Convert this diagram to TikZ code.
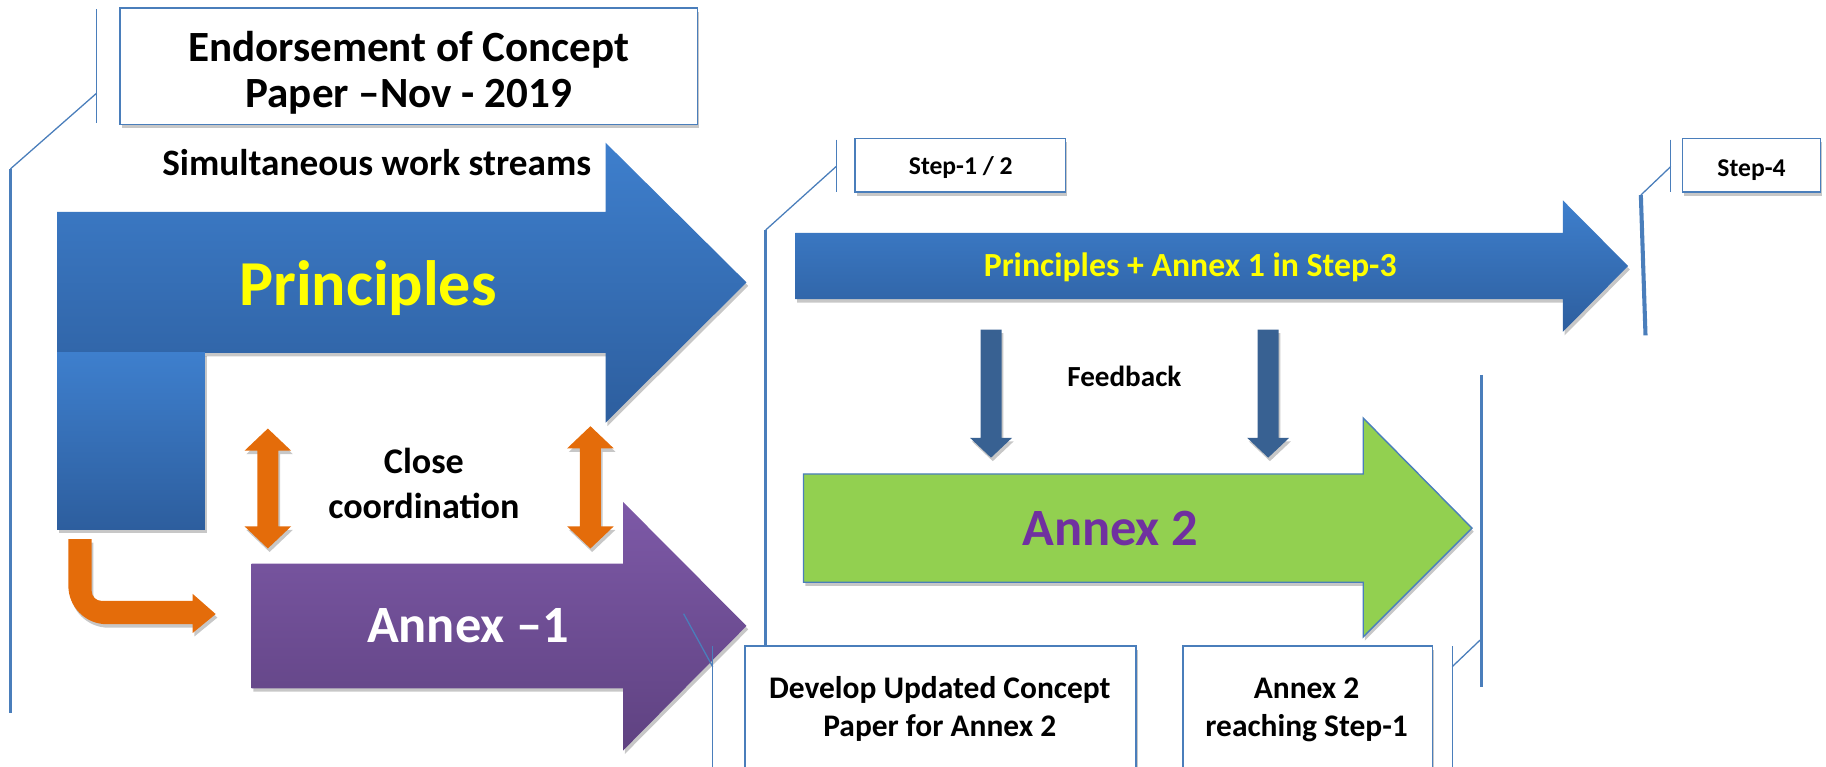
\documentclass[tikz,border=0pt]{standalone}
\usepackage{fontspec}
\setmainfont{Carlito}
\usetikzlibrary{shadows}

\definecolor{lineblue}{HTML}{4A7EBB}
\definecolor{bluetop}{HTML}{3E7FCD}
\definecolor{bluebot}{HTML}{2D5E9E}
\definecolor{purptop}{HTML}{7D59A7}
\definecolor{purpbot}{HTML}{5F4281}
\definecolor{orangeA}{HTML}{E46C0A}
\definecolor{fbblue}{HTML}{386192}
\definecolor{greenA}{HTML}{92D050}
\definecolor{annexpurple}{HTML}{7030A0}
\definecolor{yellowA}{HTML}{FFFF00}

\tikzset{
  softshadow/.style={drop shadow={shadow xshift=1.5pt, shadow yshift=-3pt, opacity=0.22, fill=black}},
  bluearrow/.style={softshadow, top color=bluetop, bottom color=bluebot},
  purplearrow/.style={softshadow, top color=purptop, bottom color=purpbot},
  orangearrow/.style={softshadow, fill=orangeA},
  fbarrow/.style={softshadow, fill=fbblue},
  greenarrow/.style={softshadow, fill=greenA, draw=lineblue, line width=1.2pt},
  thinline/.style={draw=lineblue, line width=1.1pt},
  thickbar/.style={draw=lineblue, line width=3pt},
  labelbox/.style={draw=lineblue, line width=1.5pt, fill=white, softshadow},
  txt/.style={inner sep=0pt, anchor=base},
  fs/.style={font=\fontsize{#1}{#1}\selectfont\bfseries},
}

\begin{document}
\begin{tikzpicture}[x=1pt, y=-1pt]
\useasboundingbox (0,0) rectangle (1568,658);
\clip (0,0) rectangle (1568,658);

% ---------- block arrows ----------
% Principles
\path[bluearrow] (49,182) -- (520,182) -- (520,122.5) -- (641,242.5) -- (520,363) -- (520,303) -- (49,303) -- cycle;
\path[bluearrow] (49,303) rectangle (176,454.5);
% Annex -1
\path[purplearrow] (216,484) -- (535,484) -- (535,431) -- (641,537.5) -- (535,644.5) -- (535,591) -- (216,591) -- cycle;
% Principles + Annex 1 in Step-3
\path[bluearrow] (683,200) -- (1342,200) -- (1342,172) -- (1398,228.4) -- (1342,285) -- (1342,256.8) -- (683,256.8) -- cycle;
% Annex 2
\path[greenarrow] (690,407) -- (1170.6,407) -- (1170.6,359) -- (1264,453.5) -- (1170.6,547) -- (1170.6,500) -- (690,500) -- cycle;

% close coordination double arrows
\path[orangearrow] (230,368) -- (250,387) -- (239,387) -- (239,452) -- (250,452) -- (230,471)
  -- (210,452) -- (221,452) -- (221,387) -- (210,387) -- cycle;
\path[orangearrow] (507,366) -- (527,385) -- (516,385) -- (516,452) -- (527,452) -- (507,471)
  -- (487,452) -- (498,452) -- (498,385) -- (487,385) -- cycle;

% bent arrow into Annex -1
\path[orangearrow] (58.7,463) -- (58.7,503)
  .. controls (58.7,521.2) and (73.5,536) .. (91.7,536)
  -- (165.5,536) -- (165.5,543.5) -- (185.2,527.3) -- (165.5,510) -- (165.5,516)
  -- (87.3,516) .. controls (82.5,516) and (78.7,512.2) .. (78.7,507.4)
  -- (78.7,463) -- cycle;

% feedback arrows
\path[fbarrow] (842,283) -- (860,283) -- (860,376) -- (869,376) -- (851,393) -- (833,376) -- (842,376) -- cycle;
\path[fbarrow] (1080,283) -- (1098,283) -- (1098,376) -- (1107,376) -- (1089,393) -- (1071,376) -- (1080,376) -- cycle;

% ---------- callout lines ----------
\coordinate (e1) at (83,8);   \coordinate (e2) at (83,106);
\coordinate (e3) at (83,80);  \coordinate (e4) at (9,145);  \coordinate (e5) at (9,612);
\draw[thinline] (e1) -- (e2);
\draw[thinline] (e3) -- (e4);
\draw[thickbar] (e4) -- (e5);

\coordinate (s1) at (718,120);  \coordinate (s2) at (718,165);
\coordinate (s3) at (718,143);  \coordinate (s4) at (657.5,197.5); \coordinate (s5) at (657.5,660);
\draw[thinline] (s1) -- (s2);
\draw[thinline] (s3) -- (s4);
\draw[thickbar] (s4) -- (s5);

\coordinate (f1) at (1434.7,120); \coordinate (f2) at (1434.7,165);
\coordinate (f3) at (1434.7,143); \coordinate (f4) at (1409,167.5); \coordinate (f5) at (1413,288);
\draw[thinline] (f1) -- (f2);
\draw[thinline] (f3) -- (f4);
\draw[draw=lineblue, line width=3.5pt] (f4) -- (f5);

\coordinate (d1) at (612,555); \coordinate (d2) at (612,660);
\coordinate (d3) at (612,572.5); \coordinate (d4) at (587,527);
\draw[thinline] (d1) -- (d2);
\draw[thinline] (d3) -- (d4);

\coordinate (r1) at (1247,555); \coordinate (r2) at (1247,660);
\coordinate (r3) at (1247,572.5); \coordinate (r4) at (1271,549.6);
\coordinate (r5) at (1272,322); \coordinate (r6) at (1272,590);
\draw[thinline] (r1) -- (r2);
\draw[thinline] (r3) -- (r4);
\draw[thickbar] (r5) -- (r6);

% ---------- label boxes ----------
\node[labelbox, minimum width=496pt, minimum height=100pt] (endbox) at (351,57) {};
\node[labelbox, minimum width=181pt, minimum height=46pt] (step12box) at (824.5,142) {};
\node[labelbox, minimum width=118.5pt, minimum height=46pt] (step4box) at (1504,142) {};
\node[labelbox, minimum width=335.6pt, minimum height=130pt] (devbox) at (807.8,620) {};
\node[labelbox, minimum width=214pt, minimum height=130pt] (reachbox) at (1123,620) {};

% ---------- texts ----------
\node[txt, fs=37] (end1) at (351,53) {Endorsement of Concept};
\node[txt, fs=37] (end2) at (351,92) {Paper –Nov - 2019};
\node[txt, fs=32] (simul) at (323.5,151) {Simultaneous work streams};
\node[txt, fs=55, text=yellowA] (princ) at (316,262) {Principles};
\node[txt, fs=31] (close) at (364,407) {Close};
\node[txt, fs=31] (coord) at (364,445) {coordination};
\node[txt, fs=45, text=white] (annex1) at (402,552) {Annex –1};
\node[txt, fs=22] (step12) at (825,150) {Step-1 / 2};
\node[txt, fs=22] (step4) at (1504,151.7) {Step-4};
\node[txt, fs=29, text=yellowA] (pa3) at (1022,237.6) {Principles + Annex 1 in Step-3};
\node[txt, fs=25] (feedback) at (965.5,331.5) {Feedback};
\node[txt, fs=45, text=annexpurple] (annex2) at (953.5,468.6) {Annex 2};
\node[txt, fs=27] (dev1) at (807,599.6) {Develop Updated Concept};
\node[txt, fs=27] (dev2) at (807,632.6) {Paper for Annex 2};
\node[txt, fs=27] (reach1) at (1122,599.6) {Annex 2};
\node[txt, fs=27] (reach2) at (1122,632.6) {reaching Step-1};
\end{tikzpicture}
\end{document}
